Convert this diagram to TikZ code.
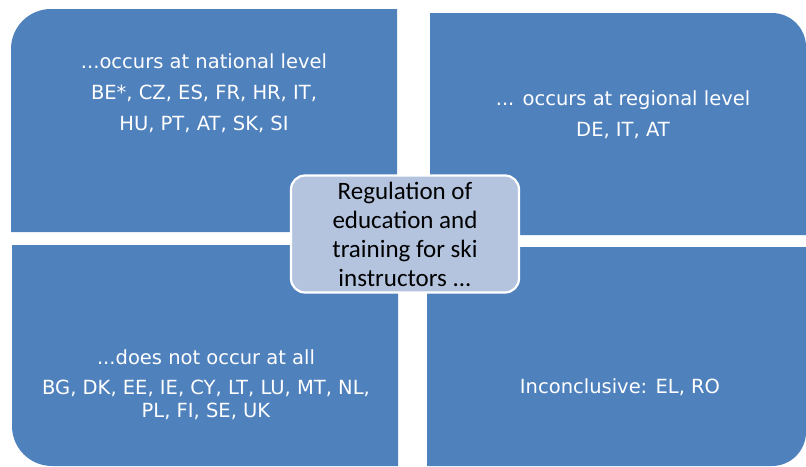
\documentclass[tikz,border=0pt]{standalone}
\usepackage{fontspec}
\setmainfont{DejaVu Sans}
\newfontfamily\centrefont{Carlito}
\usepackage{xcolor}
\definecolor{quadblue}{HTML}{4F81BD}
\definecolor{centreblue}{HTML}{B4C4DF}

\begin{document}
\begin{tikzpicture}[x=1pt,y=-1pt,
    quad/.style={fill=quadblue},
    quadtext/.style={text=white,align=center,font=\fontsize{19.5}{31}\selectfont},
    centre/.style={fill=centreblue,draw=white,line width=2.2pt,rounded corners=14pt,
        minimum width=228pt,minimum height=117pt,align=center,inner sep=0pt,
        font=\centrefont\fontsize{25}{29}\selectfont}]
\useasboundingbox (0,0) rectangle (806,466);

\fill[quad] (11,232) [rounded corners=40pt] -- (11,9) [sharp corners] -- (397,9) -- (397,232) -- cycle;
\fill[quad] (430,13) [rounded corners=34pt] -- (806,13) [sharp corners] -- (806,235) -- (430,235) -- cycle;
\fill[quad] (398,245) [sharp corners] -- (12,245) [rounded corners=40pt] -- (12,466) [sharp corners] -- (398,466) -- cycle;
\fill[quad] (427,247) -- (806,247) [rounded corners=34pt] -- (806,466) [sharp corners] -- (427,466) -- cycle;

\node[quadtext] (nat) at (204,93) {...occurs at national level\\BE*, CZ, ES, FR, HR, IT,\\HU, PT, AT, SK, SI};
\node[quadtext] (reg) at (623,115) {... occurs at regional level\\DE, IT, AT};
\node[quadtext,font=\fontsize{19.5}{23}\selectfont] (none) at (206,385) {...does not occur at all\\[7pt]BG, DK, EE, IE, CY, LT, LU, MT, NL,\\PL, FI, SE, UK};
\node[quadtext] (inc) at (620,387) {Inconclusive: EL, RO};

\node[centre] (reg-ed) at (405,234) {Regulation of\\education and\\training for ski\\instructors ...};
\end{tikzpicture}
\end{document}
